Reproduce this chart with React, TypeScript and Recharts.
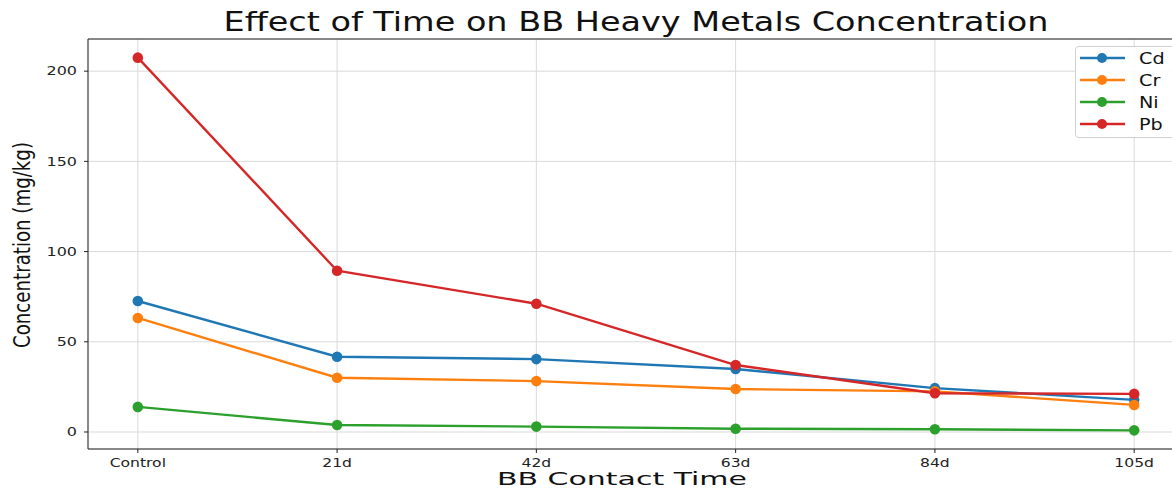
import { CartesianGrid, Customized, Line, LineChart, ReferenceLine, XAxis, YAxis } from "recharts";

const CATEGORIES = ['Control', '21d', '42d', '63d', '84d', '105d'];
const CD = [72.6, 41.7, 40.4, 34.9, 24.3, 17.8];
const CR = [63.2, 30.1, 28.2, 23.8, 22.5, 15.0];
const NI = [13.9, 3.9, 3.0, 1.8, 1.5, 0.9];
const PB = [207.5, 89.4, 71.1, 37.1, 21.5, 21.1];
const Y_TICKS = [0, 50, 100, 150, 200];

const SERIES = [
    { key: 'Cd', color: '#1f77b4' },
    { key: 'Cr', color: '#ff7f0e' },
    { key: 'Ni', color: '#2ca02c' },
    { key: 'Pb', color: '#d62728' },
];

const FONT = '"DejaVu Sans", sans-serif';

const data = CATEGORIES.map((name, i) => ({
    idx: i,
    name,
    Cd: CD[i],
    Cr: CR[i],
    Ni: NI[i],
    Pb: PB[i],
}));

// 5% padding around the data, like matplotlib's default margins
const all = [...CD, ...CR, ...NI, ...PB];
const lo = Math.min(...all);
const hi = Math.max(...all);
const pad = (hi - lo) * 0.05;
const Y_MIN = lo - pad;
const Y_MAX = hi + pad;

const XTick = ({ x, y, payload }: any) => (
    <text transform={`translate(${x},${y}) scale(1.3,1)`} textAnchor="middle" dy="0.71em"
          fontSize={12} fill="#222" fontFamily={FONT}>
        {CATEGORIES[payload.value]}
    </text>
);

const YTick = ({ x, y, payload }: any) => (
    <text transform={`translate(${x},${y}) scale(1.33,1)`} textAnchor="end" dy="0.355em"
          fontSize={12} fill="#222" fontFamily={FONT}>
        {payload.value}
    </text>
);

function Decorations() {
    return (
        <g fontFamily={FONT} fill="#111">
            <text x={636} y={31} textAnchor="middle" fontSize={26} textLength={825} lengthAdjust="spacingAndGlyphs">
                Effect of Time on BB Heavy Metals Concentration
            </text>
            <text x={622} y={485} textAnchor="middle" fontSize={17} textLength={250} lengthAdjust="spacingAndGlyphs">
                BB Contact Time
            </text>
            <text transform="translate(30,245) scale(1.3,1) rotate(-90)" textAnchor="middle" fontSize={18}
                  textLength={206} lengthAdjust="spacingAndGlyphs">
                Concentration (mg/kg)
            </text>
            <rect x={1075.5} y={46.5} width={110} height={91} rx={3} fill="#fff" fillOpacity={0.85} stroke="#d0d0d0" />
            {SERIES.map((s, i) => {
                const cy = 58 + i * 22;
                return (
                    <g key={s.key}>
                        <line x1={1080} x2={1125} y1={cy} y2={cy} stroke={s.color} strokeWidth={2.4} />
                        <circle cx={1102} cy={cy} r={5} fill={s.color} />
                        <text transform={`translate(1139,${cy}) scale(1.2,1)`} dy="0.36em" fontSize={16} fill="#111">
                            {s.key}
                        </text>
                    </g>
                );
            })}
        </g>
    );
}

export default function App() {
    return (
        <div style={{ position: 'absolute', left: 0, top: 0, background: '#fff' }}>
            <LineChart width={1172} height={488} data={data} margin={{ top: 39, right: -12, bottom: 0, left: 0 }}>
                <CartesianGrid stroke="#dadada" strokeWidth={1} horizontal vertical />
                <XAxis dataKey="idx" type="number" domain={[-0.25, 5.25]} ticks={[0, 1, 2, 3, 4, 5]}
                       height={39} tickSize={4} tickMargin={5} tick={<XTick />}
                       axisLine={{ stroke: '#222' }} tickLine={{ stroke: '#222' }} />
                <YAxis type="number" domain={[Y_MIN, Y_MAX]} ticks={Y_TICKS} width={88}
                       tickSize={4} tickMargin={7} tick={<YTick />}
                       axisLine={{ stroke: '#222' }} tickLine={{ stroke: '#222' }} />
                <ReferenceLine y={Y_MAX} stroke="#222" />
                {SERIES.map((s) => (
                    <Line key={s.key} dataKey={s.key} stroke={s.color} strokeWidth={2.4}
                          dot={{ r: 5.3, fill: s.color, stroke: 'none' }} activeDot={false}
                          isAnimationActive={false} />
                ))}
                <Customized component={<Decorations />} />
            </LineChart>
        </div>
    );
}
